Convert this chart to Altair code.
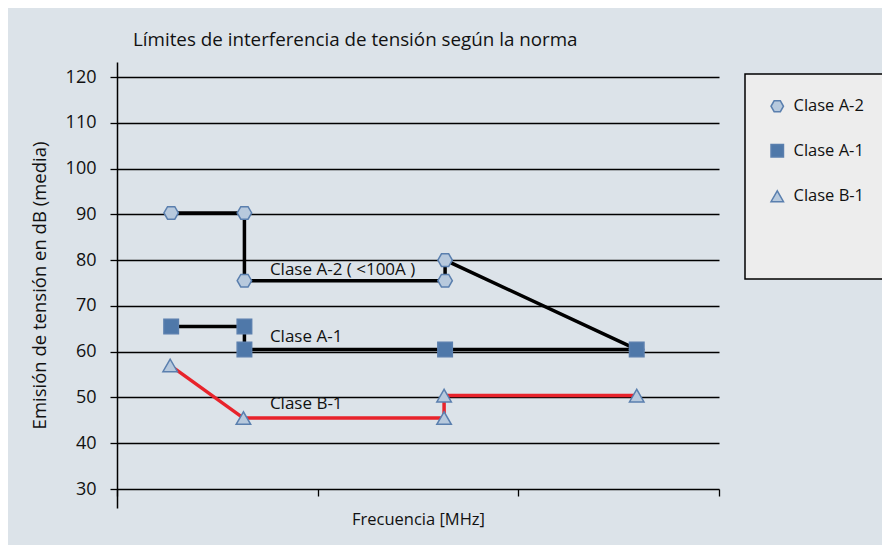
import altair as alt
import pandas as pd

# ---- data ----
series = ["Clase A-2", "Clase A-1", "Clase B-1"]
a2_x = [0.27, 0.635, 0.635, 1.635, 1.635, 2.59]
a2_y = [90.3, 90.3, 75.5, 75.5, 80.0, 60.5]
a1_x = [0.27, 0.635, 0.635, 1.635, 2.59]
a1_y = [65.5, 65.5, 60.5, 60.5, 60.5]
b1_x = [0.265, 0.63, 1.63, 1.63, 2.59]
b1_y = [57.0, 45.5, 45.5, 50.4, 50.4]

y_ticks = [30, 40, 50, 60, 70, 80, 90, 100, 110, 120]
x_ticks = [0, 1, 2, 3]

note_text = ["Clase A-2  ( <100A )", "Clase A-1", "Clase B-1"]
note_x = [0.762, 0.762, 0.762]
note_y = [76.75, 62.2, 47.4]

line_colors = ["#000000", "#000000", "#e8232b"]
fill_colors = ["#b7c9dd", "#4f78a9", "#b7c9dd"]
marker_stroke = "#5a7fae"
hexagon = "M-1,0L-0.5,-0.866L0.5,-0.866L1,0L0.5,0.866L-0.5,0.866Z"
shapes = [hexagon, "square", "triangle-up"]

rows = []
for name, lc, xs, ys in zip(series, line_colors, [a2_x, a1_x, b1_x], [a2_y, a1_y, b1_y]):
    for i, (xv, yv) in enumerate(zip(xs, ys)):
        rows.append({"serie": name, "linea": lc, "x": xv, "y": yv, "orden": i})
df = pd.DataFrame(rows)
notes = pd.DataFrame({"label": note_text, "x": note_x, "y": note_y})

FONT = "Open Sans"

x_enc = alt.X(
    "x:Q",
    scale=alt.Scale(domain=[0, 3], nice=False, zero=False),
    axis=alt.Axis(
        values=x_ticks, labels=False, domain=False, grid=False,
        ticks=True, tickSize=7, tickColor="black", tickWidth=1.3,
        offset=-19, title="Frecuencia [MHz]", titleFontSize=16.5,
        titleFont=FONT, titleFontWeight="normal", titleColor="#111111",
        titlePadding=15,
    ),
)
y_enc = alt.Y(
    "y:Q",
    scale=alt.Scale(domain=[25.85, 123.28], nice=False, zero=False),
    axis=alt.Axis(
        values=y_ticks, grid=True, gridColor="black", gridWidth=1.3,
        gridOpacity=1, domainColor="black", domainWidth=1.5,
        tickColor="black", tickSize=7, tickWidth=1.3,
        labelFontSize=18, labelFont=FONT, labelColor="#111111", labelPadding=14,
        title="Emisión de tensión en dB (media)", titleFontSize=18.5,
        titleFont=FONT, titleFontWeight="normal", titleColor="#111111",
        titlePadding=16,
    ),
)

# line colour is taken directly from the data column (identity scale, no legend)
lines = alt.Chart(df).mark_line(strokeWidth=3.5).encode(
    x=x_enc, y=y_enc,
    stroke=alt.Stroke("linea:N", scale=None),
    detail="serie:N",
    order=alt.Order("orden:Q"),
)

legend = alt.Legend(
    title=" ", titleOrient="bottom", titlePadding=40, titleFontSize=10,
    orient="none", legendX=628, legendY=12,
    fillColor="#ededed", strokeColor="black",
    padding=24, rowPadding=26.5, labelFontSize=16.5, labelFont=FONT,
    labelColor="#111111", labelOffset=8, symbolSize=155, symbolStrokeWidth=1.5,
    symbolStrokeColor=marker_stroke,
)

points = alt.Chart(df).mark_point(
    filled=True, opacity=1, strokeWidth=1.5, size=210, stroke=marker_stroke
).encode(
    x="x:Q", y="y:Q",
    shape=alt.Shape("serie:N", scale=alt.Scale(domain=series, range=shapes), legend=legend),
    color=alt.Color("serie:N", scale=alt.Scale(domain=series, range=fill_colors), legend=legend),
)

texts = alt.Chart(notes).mark_text(
    align="left", baseline="alphabetic", fontSize=17, font=FONT, color="#111111"
).encode(x="x:Q", y="y:Q", text="label:N")

chart = alt.layer(lines, points, texts).properties(
    width=602, height=446,
    title=alt.TitleParams(
        "Límites de interferencia de tensión según la norma",
        anchor="start", frame="group", dx=16, offset=12,
        fontSize=18.8, font=FONT, fontWeight="normal", color="#111111",
    ),
    background="#dce3e9",
    padding={"left": 109, "top": 54, "right": 163, "bottom": 37},
    autosize=alt.AutoSizeParams(type="none"),
).configure_view(stroke=None).configure_legend(strokeWidth=1.5)

chart.save("out.html", embed_options={"renderer": "svg", "actions": False})
